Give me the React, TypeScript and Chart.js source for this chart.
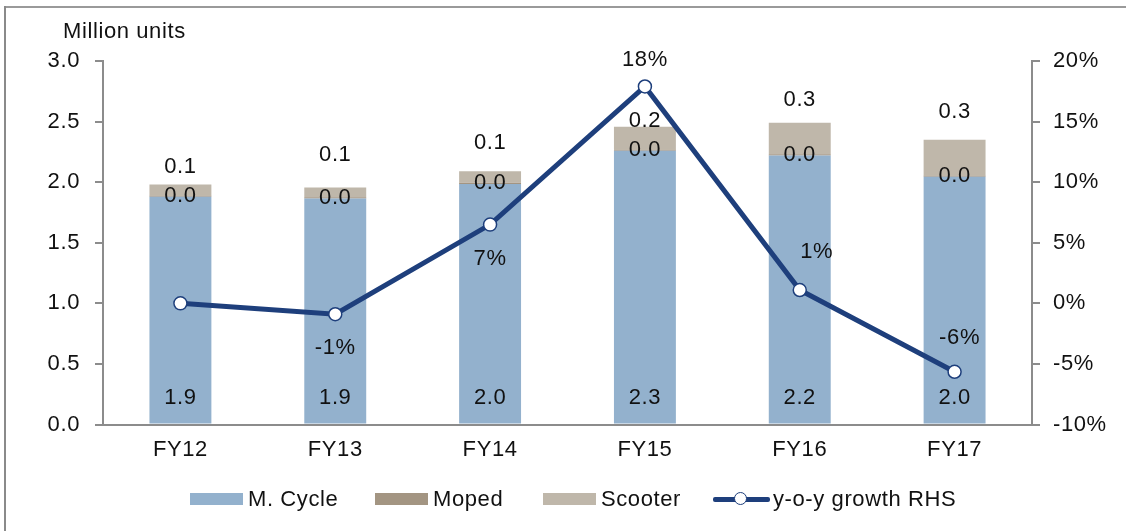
import React, { useEffect, useRef } from "react";
import { Chart, registerables } from "chart.js";

Chart.register(...registerables);

// ---- data ----
const categories = ["FY12", "FY13", "FY14", "FY15", "FY16", "FY17"];
const mCycle = [1.88, 1.865, 1.985, 2.26, 2.22, 2.045];
const moped = [0.01, 0.01, 0.01, 0.01, 0.01, 0.01];
const scooter = [0.09, 0.082, 0.095, 0.187, 0.26, 0.295];
const growth = [0, -0.9, 6.5, 17.9, 1.1, -5.65];

// ---- label layout (pixel offsets relative to the marks) ----
const scooterLabelDy = [-18, -32, -28, -6, -23, -28];
const growthLabelDx = [0, 0, 0, 0, 17, 5];
const growthLabelDy: (number | null)[] = [null, 34, 34, -27, -38, -34];

const FONT = "'Liberation Sans', Arial, sans-serif";
const TEXT = "#111111";
const AXIS = "#8c8c8c";
const C_MCYCLE = "#93B1CD";
const C_MOPED = "#A39582";
const C_SCOOTER = "#BFB7AA";
const C_LINE = "#1E3F7C";
const SPACING = "0.6px";

const legendItems = [
  { label: "M. Cycle", color: C_MCYCLE, left: 190, type: "box" },
  { label: "Moped", color: C_MOPED, left: 375, type: "box" },
  { label: "Scooter", color: C_SCOOTER, left: 543, type: "box" },
  { label: "y-o-y growth RHS", color: C_LINE, left: 713, type: "line" },
];

const spacingPlugin = {
  id: "letterSpacing",
  beforeDraw(chart: any) {
    (chart.ctx as any).letterSpacing = SPACING;
  },
};

const labelPlugin = {
  id: "valueLabels",
  afterDatasetsDraw(chart: any) {
    const ctx = chart.ctx;
    ctx.save();
    ctx.letterSpacing = SPACING;
    ctx.font = `22px ${FONT}`;
    ctx.fillStyle = TEXT;
    ctx.textAlign = "center";
    ctx.textBaseline = "middle";
    const mc = chart.getDatasetMeta(0);
    const mp = chart.getDatasetMeta(1);
    const sc = chart.getDatasetMeta(2);
    const gr = chart.getDatasetMeta(3);
    categories.forEach((_, i) => {
      const b0 = mc.data[i];
      ctx.fillText(mCycle[i].toFixed(1), b0.x, b0.base - 26);
      const b1 = mp.data[i];
      ctx.fillText(moped[i].toFixed(1), b1.x, (b1.y + b1.base) / 2);
      const b2 = sc.data[i];
      ctx.fillText(scooter[i].toFixed(1), b2.x, b2.y + scooterLabelDy[i]);
      const dy = growthLabelDy[i];
      if (dy !== null) {
        const p = gr.data[i];
        ctx.fillText(Math.round(growth[i]) + "%", p.x + growthLabelDx[i], p.y + dy);
      }
    });
    ctx.restore();
  },
};

export default function App() {
  const ref = useRef<HTMLCanvasElement | null>(null);

  useEffect(() => {
    document.body.style.margin = "0";
    if (!ref.current) return;
    const font = { family: FONT, size: 22 };
    const chart = new Chart(ref.current, {
      type: "bar",
      data: {
        labels: categories,
        datasets: [
          { type: "bar", label: "M. Cycle", data: mCycle, backgroundColor: C_MCYCLE, yAxisID: "y", order: 1, stack: "s" },
          { type: "bar", label: "Moped", data: moped, backgroundColor: C_MOPED, yAxisID: "y", order: 1, stack: "s" },
          { type: "bar", label: "Scooter", data: scooter, backgroundColor: C_SCOOTER, yAxisID: "y", order: 1, stack: "s" },
          {
            type: "line",
            label: "y-o-y growth RHS",
            data: growth,
            yAxisID: "y1",
            borderColor: C_LINE,
            borderWidth: 5,
            pointRadius: 6.5,
            pointBackgroundColor: "#ffffff",
            pointBorderColor: C_LINE,
            pointBorderWidth: 1.5,
            tension: 0,
            order: 0,
          },
        ] as any,
      },
      options: {
        animation: false,
        responsive: false,
        maintainAspectRatio: false,
        devicePixelRatio: 1,
        layout: { padding: { top: 61, left: 0, right: 0, bottom: 0 } },
        datasets: { bar: { barPercentage: 0.4, categoryPercentage: 1 } } as any,
        plugins: { legend: { display: false }, tooltip: { enabled: false }, title: { display: false } },
        scales: {
          x: {
            stacked: true,
            grid: { display: true, drawOnChartArea: false, drawTicks: false, color: AXIS },
            border: { display: true, color: AXIS, width: 2 },
            ticks: { color: TEXT, font, padding: 12 },
            afterFit: (s: any) => { s.height = 106.5; },
          },
          y: {
            stacked: true,
            position: "left",
            min: 0,
            max: 3,
            ticks: { stepSize: 0.5, color: TEXT, font, padding: 15, callback: (v: any) => Number(v).toFixed(1) },
            grid: { drawOnChartArea: false, drawTicks: true, tickLength: 8, color: AXIS, lineWidth: 2 },
            border: { display: true, color: AXIS, width: 2 },
            afterFit: (s: any) => { s.width = 103; },
          },
          y1: {
            position: "right",
            min: -10,
            max: 20,
            ticks: { stepSize: 5, color: TEXT, font, padding: 13, callback: (v: any) => v + "%" },
            grid: { drawOnChartArea: false, drawTicks: true, tickLength: 8, color: AXIS, lineWidth: 2 },
            border: { display: true, color: AXIS, width: 2 },
            afterFit: (s: any) => { s.width = 94; },
          },
        } as any,
      },
      plugins: [spacingPlugin, labelPlugin],
    });
    return () => chart.destroy();
  }, []);

  return (
    <div style={{ position: "absolute", left: 0, top: 0, width: 1126, height: 531, background: "#fff", overflow: "hidden", fontFamily: FONT, color: TEXT, letterSpacing: SPACING }}>
      <div style={{ position: "absolute", left: 4, top: 6, width: 1122, height: 2, background: "#9a9a9a" }} />
      <div style={{ position: "absolute", left: 4, top: 6, width: 2, height: 525, background: "#8a8a8a" }} />
      <canvas ref={ref} width={1126} height={531} style={{ position: "absolute", left: 0, top: 0, width: 1126, height: 531 }} />
      <div style={{ position: "absolute", left: 63, top: 18, fontSize: 22, lineHeight: "26px", whiteSpace: "nowrap" }}>Million units</div>
      {legendItems.map((it) => (
        <div key={it.label} style={{ position: "absolute", left: it.left, top: 486, height: 26, display: "flex", alignItems: "center", fontSize: 22, whiteSpace: "nowrap" }}>
          {it.type === "box" ? (
            <div style={{ width: 53, height: 12, background: it.color, marginRight: 5 }} />
          ) : (
            <div style={{ position: "relative", width: 57, height: 14, marginRight: 3 }}>
              <div style={{ position: "absolute", left: 0, top: 4.5, width: 57, height: 5, background: it.color, borderRadius: 2 }} />
              <div style={{ position: "absolute", left: 21, top: 0, width: 11, height: 11, borderRadius: "50%", background: "#fff", border: `1.5px solid ${it.color}` }} />
            </div>
          )}
          <span>{it.label}</span>
        </div>
      ))}
    </div>
  );
}
